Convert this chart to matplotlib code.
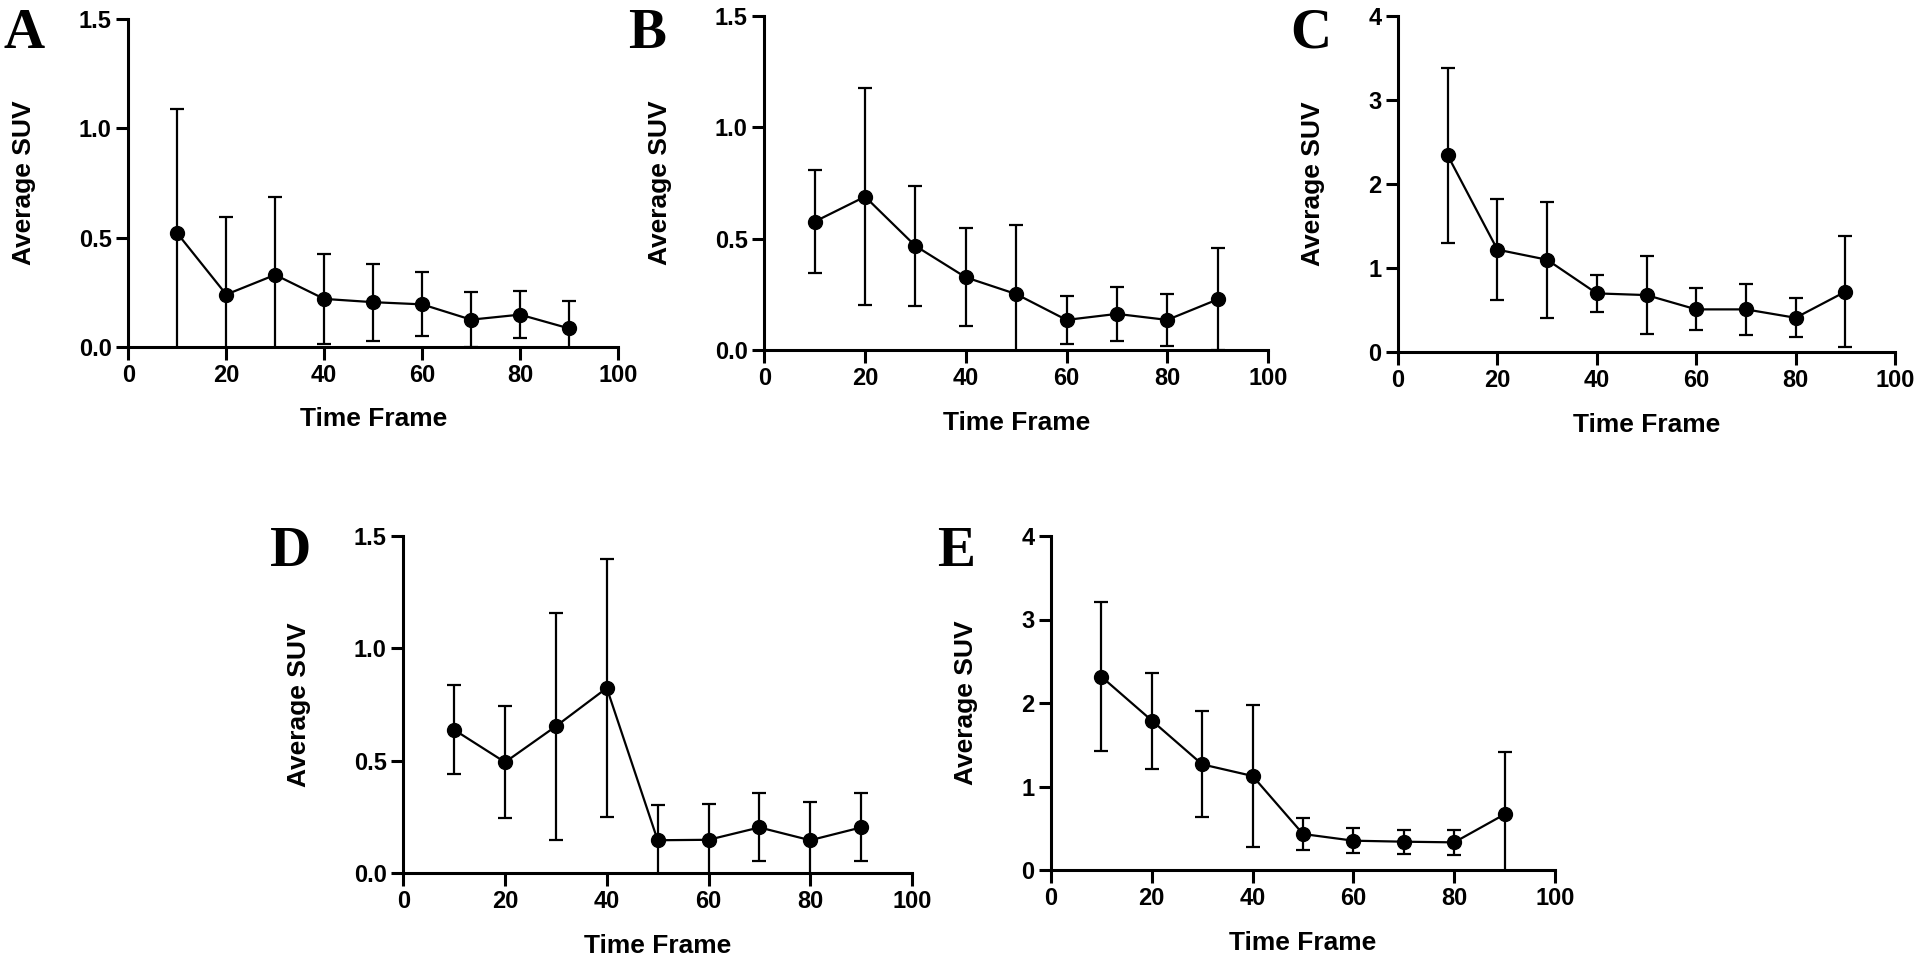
import matplotlib
matplotlib.use("Agg")
import matplotlib.pyplot as plt
from matplotlib.ticker import FormatStrFormatter

plt.rcParams['font.family'] = ['Liberation Sans', 'DejaVu Sans']
plt.rcParams['font.weight'] = 'bold'

time_frame = [10, 20, 30, 40, 50, 60, 70, 80, 90]

a_mean = [0.52, 0.24, 0.33, 0.22, 0.205, 0.195, 0.125, 0.148, 0.085]
a_sd = [0.57, 0.355, 0.355, 0.206, 0.176, 0.146, 0.127, 0.108, 0.125]

b_mean = [0.576, 0.688, 0.467, 0.326, 0.251, 0.135, 0.162, 0.135, 0.227]
b_sd = [0.232, 0.487, 0.27, 0.22, 0.31, 0.107, 0.12, 0.118, 0.229]

c_mean = [2.34, 1.22, 1.10, 0.70, 0.68, 0.51, 0.51, 0.41, 0.72]
c_sd = [1.04, 0.60, 0.69, 0.22, 0.46, 0.25, 0.30, 0.23, 0.66]

d_mean = [0.638, 0.494, 0.654, 0.824, 0.147, 0.149, 0.204, 0.147, 0.204]
d_sd = [0.198, 0.249, 0.505, 0.573, 0.156, 0.161, 0.151, 0.171, 0.151]

e_mean = [2.315, 1.79, 1.265, 1.126, 0.431, 0.351, 0.339, 0.331, 0.667]
e_sd = [0.89, 0.575, 0.635, 0.845, 0.195, 0.15, 0.145, 0.15, 0.746]

panel_letters = ['A', 'B', 'C', 'D', 'E']
x_label = 'Time Frame'
y_label = 'Average SUV'
x_ticks = [0, 20, 40, 60, 80, 100]
y_ticks_small = [0.0, 0.5, 1.0, 1.5]
y_ticks_large = [0, 1, 2, 3, 4]

fig = plt.figure(figsize=(19.2, 9.57), dpi=100)
W, H = 1920.0, 957.0

# (left, right, top, bottom) in pixels
boxes = [
    (128.3, 618.0, 19.0, 347.0),
    (764.3, 1268.0, 15.7, 350.0),
    (1398.0, 1895.0, 15.7, 352.3),
    (403.3, 912.0, 536.0, 873.3),
    (1051.0, 1555.0, 536.0, 870.0),
]
letter_pos = [(4, 8), (628, 8), (1290, 8), (270, 526), (937, 526)]

data = [(a_mean, a_sd, y_ticks_small, '%.1f'),
        (b_mean, b_sd, y_ticks_small, '%.1f'),
        (c_mean, c_sd, y_ticks_large, '%d'),
        (d_mean, d_sd, y_ticks_small, '%.1f'),
        (e_mean, e_sd, y_ticks_large, '%d')]

for (l, r, t, b), (mean, sd, yt, fmt), letter, (lx, ly) in zip(boxes, data, panel_letters, letter_pos):
    ax = fig.add_axes([l / W, 1 - b / H, (r - l) / W, (b - t) / H])
    ax.errorbar(time_frame, mean, yerr=sd, fmt='-o', color='black',
                markersize=10, linewidth=1.6, elinewidth=1.6,
                capsize=5, capthick=1.6, zorder=3)
    ax.set_xlim(0, 100)
    ax.set_ylim(yt[0], yt[-1])
    ax.set_xticks(x_ticks)
    ax.set_yticks(yt)
    ax.yaxis.set_major_formatter(FormatStrFormatter(fmt))
    for s in ['top', 'right']:
        ax.spines[s].set_visible(False)
    for s in ['left', 'bottom']:
        ax.spines[s].set_linewidth(2.2)
        ax.spines[s].set_zorder(4)
    ax.tick_params(axis='both', length=9, width=2.2, labelsize=17, pad=3)
    ax.set_xlabel(x_label, fontsize=19, fontweight='bold', labelpad=15)
    ax.set_ylabel(y_label, fontsize=19, fontweight='bold', labelpad=31)
    for lab in ax.get_xticklabels() + ax.get_yticklabels():
        lab.set_fontweight('bold')
    fig.text(lx / W, 1 - ly / H, letter, fontsize=41, fontweight='bold',
             family=['Liberation Serif', 'DejaVu Serif'], ha='left', va='top')

fig.savefig('out.png', dpi=100)
